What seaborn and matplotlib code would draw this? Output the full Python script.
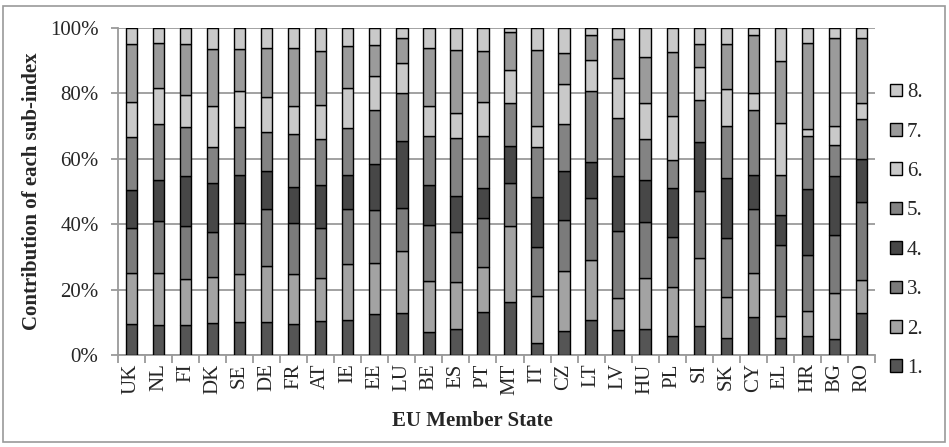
"""
100% stacked bars: contribution of each sub-index per EU member state.
"""

import matplotlib
matplotlib.use("Agg")
import matplotlib.pyplot as plt
from matplotlib.patches import Patch, Rectangle
from matplotlib.ticker import PercentFormatter, FixedLocator
import numpy as np
import seaborn as sns

# ---------------------------------------------------------------------------
# Data (share of each sub-index, %)
# ---------------------------------------------------------------------------
countries = ["UK", "NL", "FI", "DK", "SE", "DE", "FR", "AT", "IE", "EE",
             "LU", "BE", "ES", "PT", "MT", "IT", "CZ", "LT", "LV", "HU",
             "PL", "SI", "SK", "CY", "EL", "HR", "BG", "RO"]

sub1 = [9.6, 9.1, 9.2, 9.7, 10.1, 10.1, 9.4, 10.4, 10.8, 12.5,
        12.8, 6.9, 8.0, 13.3, 16.3, 3.6, 7.4, 10.6, 7.7, 7.8,
        5.7, 8.8, 5.3, 11.5, 5.1, 5.9, 5.0, 12.8]
sub2 = [15.4, 16.0, 14.0, 14.3, 14.8, 17.2, 15.4, 13.1, 17.0, 15.5,
        19.1, 15.8, 14.3, 13.7, 23.1, 14.3, 18.4, 18.5, 9.6, 15.9,
        15.0, 20.9, 12.3, 13.7, 6.7, 7.6, 14.1, 10.1]
sub3 = [13.8, 16.0, 16.3, 13.6, 15.6, 17.3, 15.5, 15.2, 16.7, 16.2,
        13.1, 17.1, 15.3, 14.8, 13.3, 15.1, 15.6, 19.0, 20.6, 16.9,
        15.3, 20.5, 18.2, 19.3, 21.7, 17.0, 17.7, 23.9]
sub4 = [11.8, 12.3, 15.3, 15.0, 14.5, 11.7, 11.1, 13.2, 10.6, 14.1,
        20.4, 12.1, 10.9, 9.3, 11.2, 15.3, 14.8, 11.0, 16.9, 13.0,
        15.2, 14.9, 18.4, 10.4, 9.2, 20.4, 18.0, 13.1]
sub5 = [16.1, 17.3, 14.8, 11.1, 14.8, 11.9, 16.2, 14.1, 14.4, 16.5,
        14.8, 15.2, 18.0, 15.8, 13.1, 15.4, 14.3, 21.7, 17.6, 12.3,
        8.4, 12.9, 15.8, 20.0, 12.2, 16.0, 9.4, 12.3]
sub6 = [10.8, 10.9, 9.8, 12.5, 10.8, 10.8, 8.6, 10.4, 12.3, 10.4,
        9.1, 9.1, 7.6, 10.5, 10.2, 6.3, 12.3, 9.3, 12.2, 11.3,
        13.6, 10.2, 11.3, 5.1, 15.9, 2.1, 5.8, 4.8]
sub7 = [17.6, 13.7, 15.6, 17.5, 13.1, 14.9, 17.7, 16.7, 12.7, 9.7,
        7.5, 17.8, 19.2, 15.7, 11.5, 23.4, 9.5, 7.9, 12.1, 13.9,
        19.6, 6.9, 13.9, 17.8, 19.1, 26.4, 26.9, 19.9]
sub8 = [4.9, 4.7, 5.0, 6.3, 6.3, 6.1, 6.1, 6.9, 5.5, 5.1,
        3.2, 6.0, 6.7, 6.9, 1.3, 6.6, 7.7, 2.0, 3.3, 8.9,
        7.2, 4.9, 4.8, 2.2, 10.1, 4.6, 3.1, 3.1]

series_labels = ["1.", "2.", "3.", "4.", "5.", "6.", "7.", "8."]
series_colors = ["#555555", "#a3a3a3", "#7b7b7b", "#474747",
                 "#838383", "#c9c9c9", "#9b9b9b", "#c9c9c9"]

FONT_SIZE = 15
GREY = "#9a9a9a"


def main() -> None:
    sns.set_style("white")
    plt.rcParams["font.family"] = ["Liberation Serif", "DejaVu Serif"]

    series = [sub1, sub2, sub3, sub4, sub5, sub6, sub7, sub8]

    fig = plt.figure(figsize=(9.49, 4.47), dpi=100)
    ax = fig.add_axes([0.1243, 0.2058, 0.7977, 0.7316])

    bottom = np.zeros(len(countries))
    for vals, color in zip(series, series_colors):
        share = np.array(vals) / np.sum(series, axis=0)
        sns.barplot(x=countries, y=share, bottom=bottom, color=color,
                    width=0.42, edgecolor="black", linewidth=1.0,
                    errorbar=None, saturation=1, ax=ax, zorder=3)
        bottom = bottom + share

    ax.set_ylim(0, 1)
    ax.set_xlim(-0.5, len(countries) - 0.5)
    ax.yaxis.set_major_locator(FixedLocator(np.linspace(0, 1, 6)))
    ax.yaxis.set_major_formatter(PercentFormatter(1.0, decimals=0))
    ax.grid(axis="y", color=GREY, linewidth=1.3, zorder=0)
    ax.set_axisbelow(True)

    for side in ["top", "right"]:
        ax.spines[side].set_visible(False)
    for side in ["left", "bottom"]:
        ax.spines[side].set_color(GREY)
        ax.spines[side].set_linewidth(1.3)

    ax.tick_params(axis="y", which="major", left=True, length=5,
                   color=GREY, width=1.3, labelsize=FONT_SIZE, pad=9)
    ax.tick_params(axis="x", which="major", bottom=False, length=0,
                   labelsize=FONT_SIZE, labelrotation=90, pad=6)
    ax.set_xticks(np.arange(-0.5, len(countries)), minor=True)
    ax.tick_params(axis="x", which="minor", bottom=True, length=6,
                   color=GREY, width=1.3)
    ax.set_xlabel("")
    ax.set_ylabel("")

    # axis titles placed like the original chart
    fig.text(32 / 949, 1 - 191 / 447, "Contribution of each sub-index",
             rotation=90, ha="center", va="center", fontsize=FONT_SIZE,
             fontweight="bold")
    fig.text(472 / 949, 1 - 421 / 447, "EU Member State", ha="center",
             va="center", fontsize=FONT_SIZE, fontweight="bold")

    handles = [Patch(facecolor=c, edgecolor="black", linewidth=1.0, label=l)
               for l, c in zip(series_labels, series_colors)][::-1]
    fig.legend(handles=handles, loc="center left",
               bbox_to_anchor=(0.938, 0.484), frameon=False,
               fontsize=FONT_SIZE, handlelength=0.55, handleheight=0.55,
               handletextpad=0.25, labelspacing=0.98, borderpad=0,
               borderaxespad=0)

    # outer chart-area border
    fig.patches.append(Rectangle((0.003, 0.012), 0.993, 0.975,
                                 transform=fig.transFigure, fill=False,
                                 edgecolor=GREY, linewidth=1.2))

    fig.savefig("out.png", dpi=100)
    plt.close(fig)


if __name__ == "__main__":
    main()
